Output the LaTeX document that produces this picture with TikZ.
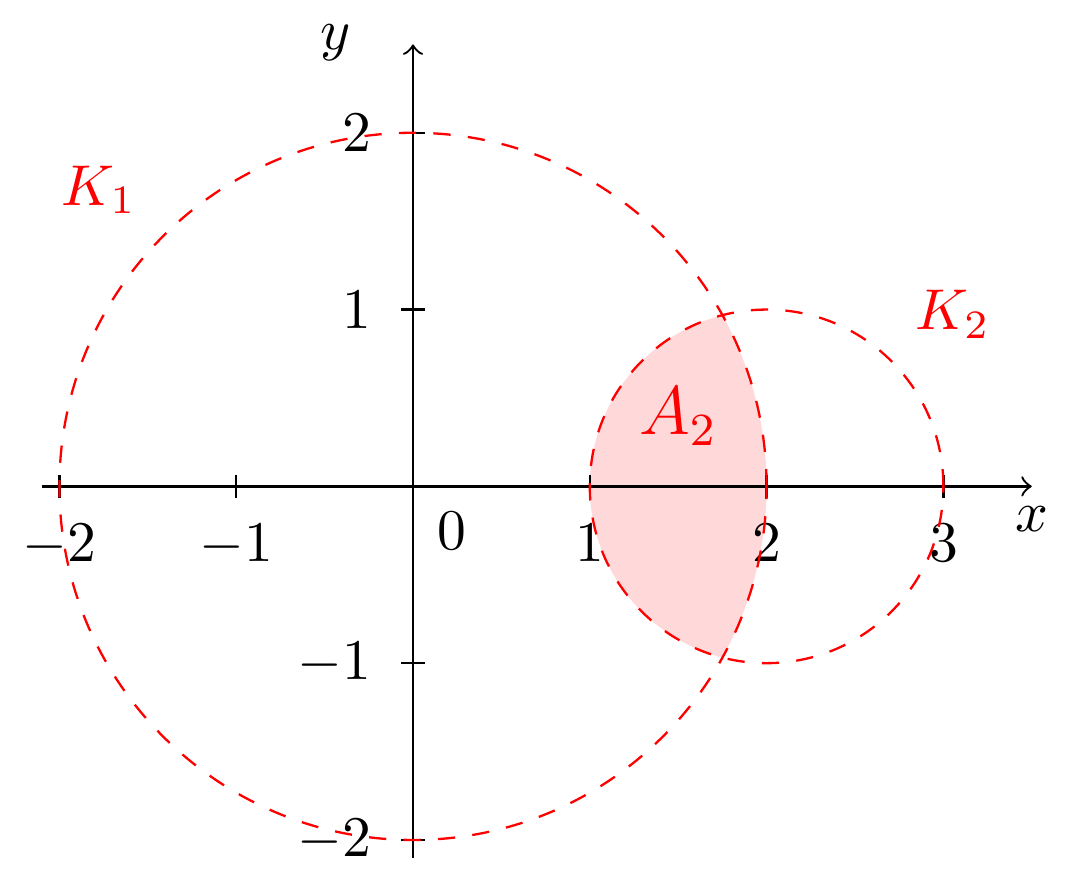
\documentclass[tikz,border=0pt]{standalone}
\usepackage{amsmath}
\tikzset{
  circ/.style={red, dashed},
  lbl/.style={red},
}
\begin{document}
\begin{tikzpicture}[x=1.08cm, y=1.08cm]
  \useasboundingbox (-2.336,-2.249) rectangle (3.75,2.751);

  % Shaded region A_2
  \fill[red!15] (2,0) ++(104.48:1) arc[start angle=104.48, end angle=255.52, radius=1]
        arc[start angle=-28.955, end angle=28.955, radius=2] -- cycle;

  % Axes
  \draw[->] (-2.1,0) -- (3.5,0) node[below] (xl) {$x$};
  \draw[->] (0,-2.1) -- (0,2.5);
  \node (yl) at (-0.44,2.51) {$y$};

  % Ticks
  \foreach \t in {-2,-1,1,2,3}
    \draw (\t,2pt) -- (\t,-2pt) node[below=0pt] (xt\t) at (\t,-0.1) {$\t$};
  \foreach \t in {-2,-1,1,2}
    \draw (-2pt,\t) -- (2pt,\t) node[left] (yt\t) at (-0.12,\t) {$\t$};
  \node (o) at (0.22,-0.25) {$0$};

  % Circles K_1 and K_2
  \draw[circ] (0,0) circle (2);
  \draw[circ] (2,0) circle (1);

  \node[lbl] (k1) at (-1.775,1.678) {$K_1$};
  \node[lbl] (k2) at (3.054,0.972) {$K_2$};
  \node[lbl, font=\large] (a2) at (1.50,0.395) {$A_2$};
\end{tikzpicture}
\end{document}
